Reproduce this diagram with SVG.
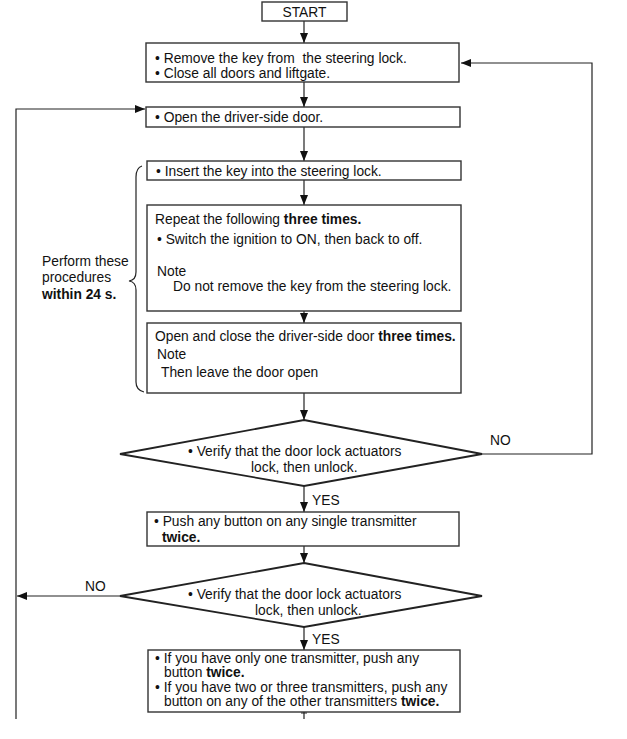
<svg xmlns="http://www.w3.org/2000/svg" width="627" height="739" viewBox="0 0 627 739">
<style>
text{font-family:"Liberation Sans",Arial,sans-serif;font-size:13.8px;fill:#111}
.b{font-weight:bold}
.box{fill:#fff;stroke:#333;stroke-width:1.4}
.dia{fill:#fff;stroke:#222;stroke-width:1.8}
.ln{fill:none;stroke:#222;stroke-width:1.2}
</style>
<defs>
<marker id="ah" markerWidth="10" markerHeight="8" refX="10" refY="4" orient="auto" markerUnits="userSpaceOnUse"><path d="M0,0 L10,4 L0,8 z" fill="#111"/></marker>
</defs>
<rect width="627" height="739" fill="#fff"/>
<g id="connectors">
<path class="ln" d="M304,21 V43" marker-end="url(#ah)"/>
<path class="ln" d="M304,82 V107" marker-end="url(#ah)"/>
<path class="ln" d="M304,127 V161" marker-end="url(#ah)"/>
<path class="ln" d="M304,180 V205" marker-end="url(#ah)"/>
<path class="ln" d="M304,311 V323" marker-end="url(#ah)"/>
<path class="ln" d="M304,393 V420" marker-end="url(#ah)"/>
<path class="ln" d="M304,486 V512" marker-end="url(#ah)"/>
<path class="ln" d="M304,546 V563" marker-end="url(#ah)"/>
<path class="ln" d="M304,627 V650" marker-end="url(#ah)"/>
<path class="ln" d="M304,712 V719 M301,713 H307"/>
<path class="ln" d="M482,454 H592 V63 H461" marker-end="url(#ah)"/>
<path class="ln" d="M120,596 H17" marker-end="url(#ah)"/>
<path class="ln" d="M16,719 V109 H145" marker-end="url(#ah)"/>
<text x="490" y="445">NO</text>
<text x="85" y="591">NO</text>
<text x="312" y="505">YES</text>
<text x="312" y="644">YES</text>
</g>
<g id="start">
<rect class="box" x="262" y="2" width="85" height="19"/>
<text x="304.5" y="16.5" text-anchor="middle">START</text>
</g>
<g id="step1">
<rect class="box" x="146" y="43" width="313" height="39"/>
<text x="155" y="62.5" xml:space="preserve">• Remove the key from  the steering lock.</text>
<text x="155" y="77.5">• Close all doors and liftgate.</text>
</g>
<g id="step2">
<rect class="box" x="146" y="107" width="314" height="20"/>
<text x="155" y="121.5">• Open the driver-side door.</text>
</g>
<g id="brace">
<path class="ln" d="M142,166 Q136,168 136,177 L136,272 Q136,280 129,281 Q136,282 136,290 L136,382 Q136,390 144,392"/>
<text x="42" y="266">Perform these</text>
<text x="42" y="282">procedures</text>
<text x="42" y="299" class="b">within 24 s.</text>
</g>
<g id="step3">
<rect class="box" x="147" y="161" width="314" height="19"/>
<text x="156" y="175.5">• Insert the key into the steering lock.</text>
</g>
<g id="step4">
<rect class="box" x="147" y="205" width="314" height="106"/>
<text x="155" y="224">Repeat the following <tspan class="b">three times.</tspan></text>
<text x="157" y="244">• Switch the ignition to ON, then back to off.</text>
<text x="157" y="276">Note</text>
<text x="173" y="291">Do not remove the key from the steering lock.</text>
</g>
<g id="step5">
<rect class="box" x="147" y="323" width="314" height="70"/>
<text x="155" y="341">Open and close the driver-side door <tspan class="b">three times.</tspan></text>
<text x="157" y="359">Note</text>
<text x="161" y="377">Then leave the door open</text>
</g>
<g id="check1">
<polygon class="dia" points="304,420 482,454 304,486 120,454"/>
<text x="188" y="456">• Verify that the door lock actuators</text>
<text x="251" y="472">lock, then unlock.</text>
</g>
<g id="step6">
<rect class="box" x="147" y="512" width="312" height="34"/>
<text x="154" y="526">• Push any button on any single transmitter</text>
<text x="162" y="542" class="b">twice.</text>
</g>
<g id="check2">
<polygon class="dia" points="304,563 482,596 304,627 120,596"/>
<text x="188" y="599">• Verify that the door lock actuators</text>
<text x="255" y="615">lock, then unlock.</text>
</g>
<g id="step7">
<rect class="box" x="148" y="650" width="312" height="62"/>
<text x="155" y="663">• If you have only one transmitter, push any</text>
<text x="164" y="677">button <tspan class="b">twice.</tspan></text>
<text x="155" y="691.5">• If you have two or three transmitters, push any</text>
<text x="164" y="705.5">button on any of the other transmitters <tspan class="b">twice.</tspan></text>
</g>
</svg>
